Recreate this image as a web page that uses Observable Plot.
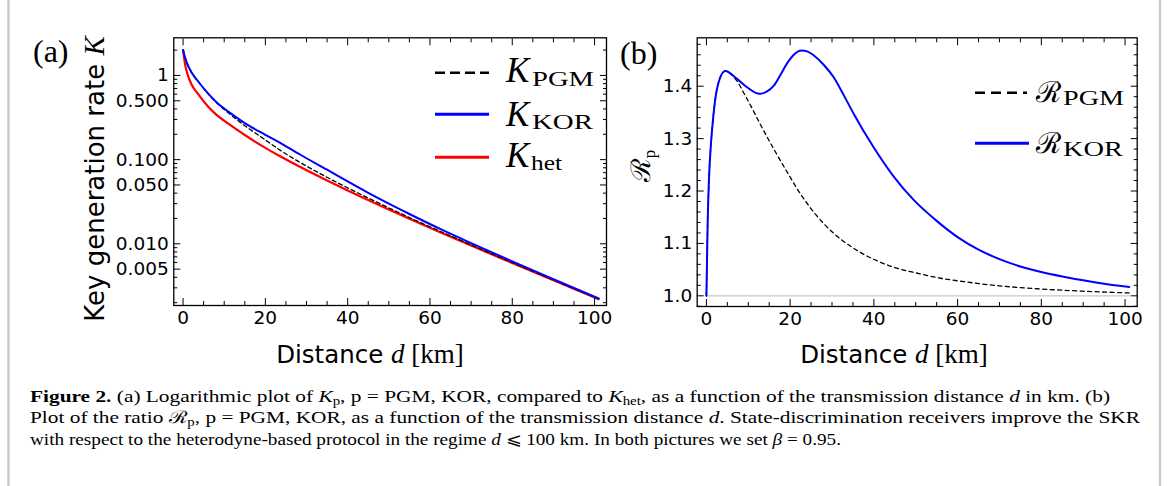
<!DOCTYPE html>
<html><head><meta charset="utf-8">
<script src="https://cdn.jsdelivr.net/npm/d3@7"></script>
<script src="https://cdn.jsdelivr.net/npm/@observablehq/plot@0.6"></script>
<style>
html,body{margin:0;padding:0;background:#fff;}
#root{position:relative;width:1167px;height:486px;overflow:hidden;background:#fff;}
#root > div.plot{position:absolute;top:0;}
#overlay{position:absolute;left:0;top:0;}
</style></head><body><div id="root"></div><script>
// ---------- data: panel (a) key generation rate K vs distance d [km] ----------
const distA = [0, 0.5, 1, 2, 3.5, 6, 8, 11, 15, 20, 23.7, 28.6, 35, 40, 45, 50, 55, 62.6, 70, 80, 90, 101];
const kKOR  = [2.0, 1.62, 1.38, 1.096, 0.871, 0.617, 0.488, 0.372, 0.272, 0.197, 0.157, 0.1135, 0.0759, 0.055, 0.0403, 0.030, 0.0226, 0.01493, 0.0102, 0.00618, 0.0038, 0.00224];
const kPGM  = [2.0, 1.62, 1.38, 1.096, 0.871, 0.615, 0.483, 0.36, 0.2533, 0.1714, 0.1283, 0.0916, 0.0617, 0.0461, 0.035, 0.0267, 0.0205, 0.014, 0.0097, 0.00599, 0.00372, 0.002215];
const kHet  = [2.0, 1.35, 1.07, 0.79, 0.615, 0.43, 0.345, 0.267, 0.196, 0.138, 0.1089, 0.0812, 0.0566, 0.0431, 0.0331, 0.0255, 0.0198, 0.01361, 0.00952, 0.00591, 0.00369, 0.0022];

// ---------- data: panel (b) ratio R vs distance ----------
const distKOR = [0, 0.3, 0.6, 1.0, 1.5, 2.2, 3.0, 4.5, 7.3, 9.7, 12.7, 14.3, 16.1, 17.7, 19.3, 21, 22.7, 24.2, 25.6, 28, 30.4, 32.8, 35.2, 39.9, 44.7, 49.5, 55, 60, 65, 70, 75, 80, 85, 90, 95, 101];
const rKOR    = [1.0, 1.14, 1.22, 1.28, 1.33, 1.38, 1.41, 1.429, 1.414, 1.398, 1.3855, 1.389, 1.401, 1.422, 1.444, 1.461, 1.468, 1.466, 1.459, 1.441, 1.417, 1.383, 1.347, 1.284, 1.228, 1.183, 1.143, 1.112, 1.088, 1.07, 1.056, 1.0455, 1.037, 1.0295, 1.023, 1.017];
const distPGM = [0, 0.3, 0.6, 1.0, 1.5, 2.2, 3.0, 4.5, 6, 7.3, 9, 10.5, 12.9, 16.1, 19.3, 22.5, 25.6, 27.9, 30.3, 35, 40.7, 45, 51, 56, 61.5, 70, 79, 90, 101];
const rPGM    = [1.0, 1.14, 1.22, 1.28, 1.33, 1.38, 1.41, 1.429, 1.422, 1.41, 1.386, 1.364, 1.327, 1.28, 1.236, 1.194, 1.16, 1.139, 1.12, 1.0915, 1.067, 1.054, 1.042, 1.0335, 1.027, 1.019, 1.0135, 1.0088, 1.0055];
const baseLineD = [0, 101];
const baseLineR = [1, 1];

// ---------- ticks ----------
const xTicks = [0, 20, 40, 60, 80, 100];
const xMinor = [5, 10, 15, 25, 30, 35, 45, 50, 55, 65, 70, 75, 85, 90, 95];
const yTicksA = [1, 0.5, 0.1, 0.05, 0.01, 0.005];
const yTickLabelsA = ["1", "0.500", "0.100", "0.050", "0.010", "0.005"];
const yMinorA = [2, 0.9, 0.8, 0.7, 0.6, 0.4, 0.3, 0.2, 0.09, 0.08, 0.07, 0.06, 0.04, 0.03, 0.02, 0.009, 0.008, 0.007, 0.006, 0.004, 0.003, 0.002];
const yTicksB = [1.0, 1.1, 1.2, 1.3, 1.4];
const yTickLabelsB = ["1.0", "1.1", "1.2", "1.3", "1.4"];
const yMinorB = [0.98, 1.02, 1.04, 1.06, 1.08, 1.12, 1.14, 1.16, 1.18, 1.22, 1.24, 1.26, 1.28, 1.32, 1.34, 1.36, 1.38, 1.42, 1.44, 1.46, 1.48];

const FONT = "DejaVu Sans";
const TICKFS = 18.5;
const MAJ = -7, MIN = -4;

function frameAxes(yMajor, yMinor, yLabels) {
  return [
    Plot.frame({stroke: "black", strokeWidth: 1.3}),
    Plot.axisX(xTicks, {anchor: "bottom", tickSize: MAJ, tickFormat: () => "", label: null}),
    Plot.axisX(xMinor, {anchor: "bottom", tickSize: MIN, tickFormat: () => "", label: null}),
    Plot.axisX(xTicks, {anchor: "top", tickSize: MAJ, tickFormat: () => "", label: null}),
    Plot.axisX(xMinor, {anchor: "top", tickSize: MIN, tickFormat: () => "", label: null}),
    Plot.axisX(xTicks, {anchor: "bottom", tickSize: 0, tickPadding: 5, tickFormat: d => String(d), label: null, fontSize: TICKFS}),
    Plot.axisY(yMajor, {anchor: "left", tickSize: MAJ, tickFormat: () => "", label: null}),
    Plot.axisY(yMinor, {anchor: "left", tickSize: MIN, tickFormat: () => "", label: null}),
    Plot.axisY(yMajor, {anchor: "right", tickSize: MAJ, tickFormat: () => "", label: null}),
    Plot.axisY(yMinor, {anchor: "right", tickSize: MIN, tickFormat: () => "", label: null}),
    Plot.text(yMajor, {y: d => d, text: (d, i) => yLabels[i], frameAnchor: "left", textAnchor: "end", dx: -5, fontSize: TICKFS, fill: "black"})
  ];
}

const rowsA = (ys) => distA.map((d, i) => ({d, k: ys[i]}));

const plotA = Plot.plot({
  width: 625, height: 340,
  marginLeft: 173.3, marginRight: 19, marginTop: 37.3, marginBottom: 35,
  x: {domain: [-2.25, 102.9], label: null},
  y: {type: "log", domain: [0.00185, 2.8], label: null},
  style: {fontFamily: FONT, fontSize: TICKFS + "px", color: "black", background: "transparent", overflow: "visible"},
  marks: [
    Plot.line(rowsA(kHet), {x: "d", y: "k", stroke: "#ff0000", strokeWidth: 2.2, curve: "monotone-x"}),
    Plot.line(rowsA(kPGM), {x: "d", y: "k", stroke: "black", strokeWidth: 1.3, strokeDasharray: "4,3", curve: "monotone-x"}),
    Plot.line(rowsA(kKOR), {x: "d", y: "k", stroke: "#0000ff", strokeWidth: 2, curve: "monotone-x"}),
    ...frameAxes(yTicksA, yMinorA, yTickLabelsA)
  ]
});

const plotB = Plot.plot({
  width: 520, height: 340,
  marginLeft: 56.7, marginRight: 23.3, marginTop: 37.3, marginBottom: 34,
  x: {domain: [-2.2, 102.9], label: null},
  y: {domain: [0.9796, 1.4924], label: null},
  style: {fontFamily: FONT, fontSize: TICKFS + "px", color: "black", background: "transparent", overflow: "visible"},
  marks: [
    Plot.line(baseLineD.map((d, i) => ({d, r: baseLineR[i]})), {x: "d", y: "r", stroke: "#c8c8c8", strokeWidth: 1.2}),
    Plot.line(distPGM.map((d, i) => ({d, r: rPGM[i]})), {x: "d", y: "r", stroke: "black", strokeWidth: 1.3, strokeDasharray: "4,3.5", curve: "monotone-x"}),
    Plot.line(distKOR.map((d, i) => ({d, r: rKOR[i]})), {x: "d", y: "r", stroke: "#0000ff", strokeWidth: 2, curve: "monotone-x"}),
    ...frameAxes(yTicksB, yMinorB, yTickLabelsB)
  ]
});

const root = document.getElementById("root");
const wa = document.createElement("div"); wa.className = "plot"; wa.style.left = "0px"; wa.appendChild(plotA); root.appendChild(wa);
const wb = document.createElement("div"); wb.className = "plot"; wb.style.left = "640px"; wb.appendChild(plotB); root.appendChild(wb);

// ---------- overlay: labels, legends, caption, border ----------
const SERIF = "'Liberation Serif', 'DejaVu Serif', serif";
const svgNS = "http://www.w3.org/2000/svg";
const ov = document.createElementNS(svgNS, "svg");
ov.setAttribute("id", "overlay");
ov.setAttribute("width", 1167); ov.setAttribute("height", 486);
ov.innerHTML = `
  <line x1="8.5" y1="0" x2="8.5" y2="486" stroke="#cccccc" stroke-width="2.5"/>
  <line x1="1160" y1="0" x2="1160" y2="486" stroke="#cccccc" stroke-width="2.5"/>
  <text x="33" y="62" font-family="${SERIF}" font-size="32">(a)</text>
  <text x="620" y="63.5" font-family="${SERIF}" font-size="32">(b)</text>
  <text transform="translate(104,179) rotate(-90)" text-anchor="middle" font-family="${FONT}" font-size="26">Key generation rate <tspan font-family="${SERIF}" font-style="italic" font-size="29">K</tspan></text>
  <text transform="translate(650,166) rotate(-90)" text-anchor="middle" font-family="'DejaVu Serif'" font-size="27">ℛ<tspan font-size="17" dy="5" font-family="${SERIF}">p</tspan></text>
  <text x="370" y="363" text-anchor="middle" font-family="${FONT}" font-size="24.5">Distance <tspan font-family="${SERIF}" font-style="italic" font-size="27">d</tspan><tspan font-family="${SERIF}" font-size="27"> [km]</tspan></text>
  <text x="894" y="363" text-anchor="middle" font-family="${FONT}" font-size="24.5">Distance <tspan font-family="${SERIF}" font-style="italic" font-size="27">d</tspan><tspan font-family="${SERIF}" font-size="27"> [km]</tspan></text>

  <line x1="435" y1="72.7" x2="489" y2="72.7" stroke="black" stroke-width="2.6" stroke-dasharray="10,5"/>
  <line x1="435" y1="114.3" x2="489" y2="114.3" stroke="#0000ff" stroke-width="3"/>
  <line x1="435" y1="157.3" x2="489" y2="157.3" stroke="#ff0000" stroke-width="3"/>
  <g font-family="${SERIF}">
    <text x="506" y="82.3" font-size="35" font-style="italic">K</text>
    <text x="532" y="86" font-size="21" textLength="62" lengthAdjust="spacingAndGlyphs">PGM</text>
    <text x="506" y="125.5" font-size="35" font-style="italic">K</text>
    <text x="532" y="129" font-size="21" textLength="61" lengthAdjust="spacingAndGlyphs">KOR</text>
    <text x="506" y="166.7" font-size="35" font-style="italic">K</text>
    <text x="531" y="170" font-size="21" textLength="31" lengthAdjust="spacingAndGlyphs">het</text>
  </g>

  <line x1="975" y1="92.7" x2="1027" y2="92.7" stroke="black" stroke-width="2.6" stroke-dasharray="10,6"/>
  <line x1="975" y1="143.3" x2="1029" y2="143.3" stroke="#0000ff" stroke-width="3"/>
  <text x="1036" y="101.7" font-family="'DejaVu Serif'" font-size="29">ℛ</text>
  <text x="1063" y="105" font-family="${SERIF}" font-size="21" textLength="61" lengthAdjust="spacingAndGlyphs">PGM</text>
  <text x="1036" y="152.7" font-family="'DejaVu Serif'" font-size="29">ℛ</text>
  <text x="1063" y="156" font-family="${SERIF}" font-size="21" textLength="60" lengthAdjust="spacingAndGlyphs">KOR</text>

  <g font-family="${SERIF}" font-size="17.2" fill="#000">
    <text x="30" y="401.7" textLength="1080" lengthAdjust="spacingAndGlyphs"><tspan font-weight="bold">Figure 2.</tspan> (a) Logarithmic plot of <tspan font-style="italic">K</tspan><tspan font-size="12" dy="3">p</tspan><tspan dy="-3">, p = PGM, KOR, compared to </tspan><tspan font-style="italic">K</tspan><tspan font-size="12" dy="3">het</tspan><tspan dy="-3">, as a function of the transmission distance </tspan><tspan font-style="italic">d</tspan> in km. (b)</text>
    <text x="30" y="423.3" textLength="1110" lengthAdjust="spacingAndGlyphs">Plot of the ratio ℛ<tspan font-size="12" dy="3">p</tspan><tspan dy="-3">, p = PGM, KOR, as a function of the transmission distance </tspan><tspan font-style="italic">d</tspan>. State-discrimination receivers improve the SKR</text>
    <text x="30" y="445" textLength="811" lengthAdjust="spacingAndGlyphs">with respect to the heterodyne-based protocol in the regime <tspan font-style="italic">d</tspan> ⩽ 100 km. In both pictures we set <tspan font-style="italic">β</tspan> = 0.95.</text>
  </g>
`;
root.appendChild(ov);
</script></body></html>
